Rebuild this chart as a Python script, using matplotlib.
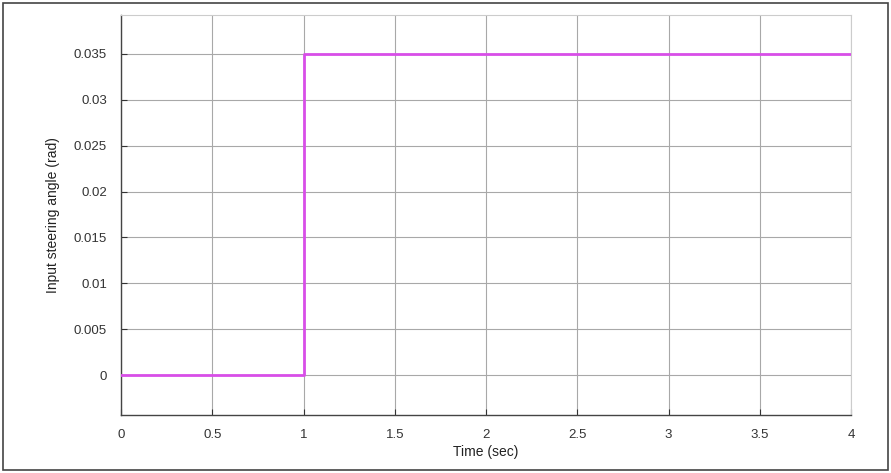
import matplotlib
matplotlib.use("Agg")
import matplotlib.pyplot as plt
from matplotlib.patches import Rectangle

time_sec = [0.0, 1.0, 1.0, 4.0]
steer_rad = [0.0, 0.0, 0.035, 0.035]
x_ticks = [0, 0.5, 1, 1.5, 2, 2.5, 3, 3.5, 4]
x_tick_labels = ["0", "0.5", "1", "1.5", "2", "2.5", "3", "3.5", "4"]
y_ticks = [0, 0.005, 0.01, 0.015, 0.02, 0.025, 0.03, 0.035]
y_tick_labels = ["0", "0.005", "0.01", "0.015", "0.02", "0.025", "0.03", "0.035"]

plt.rcParams['font.family'] = ['Liberation Sans', 'DejaVu Sans']
fig = plt.figure(figsize=(8.91, 4.73), dpi=100)
ax = fig.add_axes([121/891, 1-415/473, (851-121)/891, (415-15)/473])

ax.plot(time_sec, steer_rad, color='#d84ee8', lw=2.0, zorder=3)
ax.set_xlim(0, 4)
ax.set_ylim(-0.00436, 0.03925)
ax.set_xticks(x_ticks)
ax.set_xticklabels(x_tick_labels)
ax.set_yticks(y_ticks)
ax.set_yticklabels(y_tick_labels)
ax.grid(True, color='#a8a8a8', lw=0.8)
ax.tick_params(direction='in', labelsize=9.5, colors='#333333', length=4)
ax.tick_params(axis='x', pad=10)
ax.tick_params(axis='y', pad=10)
for s in ['top', 'right']:
    ax.spines[s].set_color('#cccccc')
    ax.spines[s].set_linewidth(0.8)
for s in ['left', 'bottom']:
    ax.spines[s].set_color('#444444')
    ax.spines[s].set_linewidth(1.0)
ax.set_xlabel("Time (sec)", fontsize=10, color='#222222', labelpad=3)
ax.set_ylabel("Input steering angle (rad)", fontsize=10, color='#222222', labelpad=10)

fig.patches.append(Rectangle((3/891, 3/473), 885/891, 467/473, transform=fig.transFigure,
                             fill=False, edgecolor='#444444', lw=1.2))
fig.savefig("out.png", dpi=100)
